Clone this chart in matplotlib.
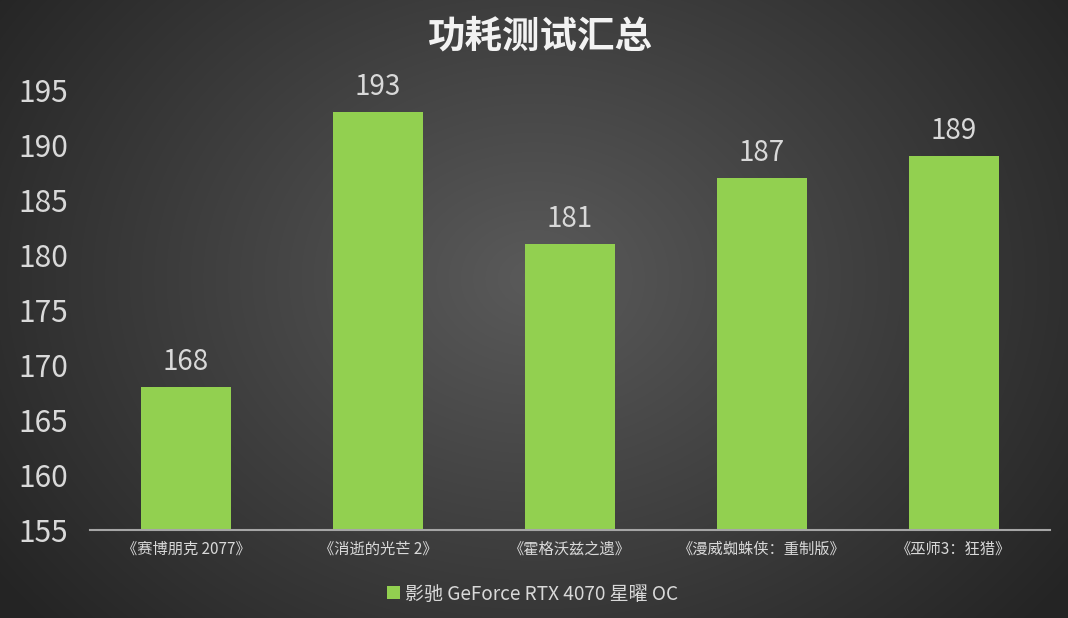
import numpy as np
import matplotlib
matplotlib.use("Agg")
import matplotlib.pyplot as plt
from matplotlib.patches import Patch

plt.rcParams['font.family'] = ['Noto Sans CJK SC', 'DejaVu Sans']

title = "功耗测试汇总"
categories = ["《赛博朋克 2077》", "《消逝的光芒 2》", "《霍格沃兹之遗》", "《漫威蜘蛛侠：重制版》", "《巫师3：狂猎》"]
values = [168, 193, 181, 187, 189]
series_name = "影驰 GeForce RTX 4070 星曜 OC"
yticks = [155, 160, 165, 170, 175, 180, 185, 190, 195]

W, H = 1068, 618
fig = plt.figure(figsize=(W / 100, H / 100), dpi=100)

# radial gradient background
bg = fig.add_axes([0, 0, 1, 1])
yy, xx = np.mgrid[0:H, 0:W]
cx, cy = W * 0.5, H * 0.45
r = np.sqrt(((xx - cx) / (W * 0.62)) ** 2 + ((yy - cy) / (H * 0.85)) ** 2)
r = np.clip(r, 0, 1)
inner = np.array([0x5a, 0x5a, 0x5a]) / 255
outer = np.array([0x24, 0x24, 0x24]) / 255
img = inner[None, None, :] * (1 - r[..., None]) + outer[None, None, :] * r[..., None]
bg.imshow(img, aspect='auto', extent=[0, 1, 0, 1], zorder=0)
bg.axis('off')

ax = fig.add_axes([90 / W, 1 - 530 / H, 960 / W, 440 / H])
ax.patch.set_alpha(0)
x = np.arange(len(categories))
bars = ax.bar(x, values, width=0.47, color='#92D050', zorder=2)
ax.set_xlim(-0.5, len(categories) - 0.5)
ax.set_ylim(155, 195)
ax.set_yticks(yticks)
ax.set_yticklabels([str(t) for t in yticks], fontsize=21.5, color='#d9d9d9')
ax.set_xticks(x)
ax.set_xticklabels(categories, fontsize=11, color='#d9d9d9')
ax.tick_params(axis='y', length=0, pad=16)
ax.tick_params(axis='x', length=0, pad=8)
for s in ['left', 'right', 'top']:
    ax.spines[s].set_visible(False)
ax.spines['bottom'].set_color('#a6a6a6')
ax.spines['bottom'].set_linewidth(1.5)

for xi, v in zip(x, values):
    ax.text(xi, v + 0.9, str(v), ha='center', va='bottom', fontsize=20,
            color='#d9d9d9', clip_on=False)

fig.text(540 / W, 1 - 36 / H, title, ha='center', va='center', fontsize=27,
         fontweight='bold', color='#f2f2f2')

handle = Patch(facecolor='#92D050', edgecolor='none')
fig.legend([handle], [series_name], loc='center', bbox_to_anchor=(533 / W, 1 - 594 / H),
           frameon=False, fontsize=13.7, labelcolor='#d9d9d9', handlelength=0.65,
           handleheight=0.65, handletextpad=0.3)

fig.savefig('out.png', dpi=100)
